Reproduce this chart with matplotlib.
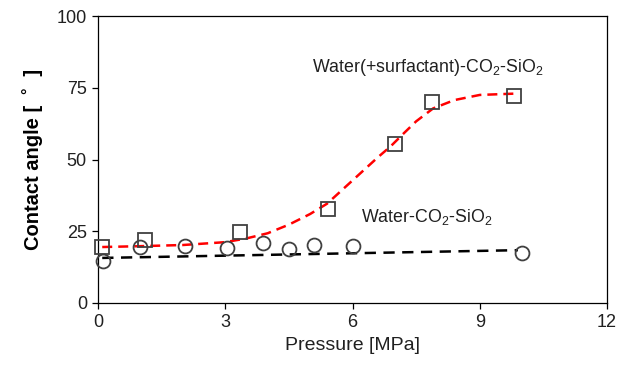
"""Contact angle vs pressure for water-CO2-SiO2 with and without surfactant."""

import matplotlib
matplotlib.use("Agg")
import matplotlib.pyplot as plt

plt.rcParams["font.family"] = ["Liberation Sans", "DejaVu Sans"]
plt.rcParams["mathtext.default"] = "regular"

surf_p = [0.1, 1.1, 3.35, 5.42, 7.0, 7.87, 9.8]
surf_angle = [19.6, 21.8, 24.8, 32.8, 55.5, 69.9, 72.1]

plain_p = [0.12, 1.0, 2.05, 3.05, 3.9, 4.5, 5.1, 6.0, 10.0]
plain_angle = [14.7, 19.6, 20.0, 19.3, 21.0, 18.9, 20.1, 20.0, 17.3]

# fitted trend lines
surf_fit_p = [0.1, 1.0, 2.0, 3.0, 3.5, 4.0, 4.5, 5.0, 5.4, 5.8, 6.2, 6.6,
              6.9, 7.2, 7.5, 7.9, 8.4, 9.0, 9.9]
surf_fit_angle = [19.5, 19.8, 20.2, 21.2, 22.5, 24.3, 27.3, 31.0, 34.6, 40.0,
                  45.4, 50.8, 54.6, 59.0, 63.3, 67.8, 70.7, 72.5, 73.0]

plain_fit_p = [0.1, 9.9]
plain_fit_angle = [15.7, 18.4]

fig = plt.figure(figsize=(6.31, 3.69), dpi=100)
ax = fig.add_axes([0.1553, 0.1789, 0.8067, 0.7777])

ax.plot(surf_fit_p, surf_fit_angle, color="#ff0000", linewidth=1.8,
        linestyle=(0, (4, 2.4)), zorder=2)
ax.plot(plain_fit_p, plain_fit_angle, color="black", linewidth=1.8,
        linestyle=(0, (4.5, 3)), zorder=2)

ax.plot(surf_p, surf_angle, "s", markersize=10, markerfacecolor="none",
        markeredgecolor="#404040", markeredgewidth=1.3, zorder=3, clip_on=False)
ax.plot(plain_p, plain_angle, "o", markersize=10, markerfacecolor="none",
        markeredgecolor="#404040", markeredgewidth=1.3, zorder=3, clip_on=False)

ax.text(5.05, 82, "Water(+surfactant)-CO$_2$-SiO$_2$", fontsize=12.8,
        color="#202020", va="center", ha="left")
ax.text(6.2, 30, "Water-CO$_2$-SiO$_2$", fontsize=12.8,
        color="#202020", va="center", ha="left")

ax.set_xlim(0, 12)
ax.set_ylim(0, 100)
ax.set_xticks([0, 3, 6, 9, 12])
ax.set_yticks([0, 25, 50, 75, 100])
ax.tick_params(direction="out", length=4, width=0.9, labelsize=13,
               colors="black", labelcolor="#202020", pad=4)
for side in ax.spines.values():
    side.set_linewidth(0.9)

ax.set_xlabel("Pressure [MPa]", fontsize=14, color="#202020", labelpad=4)
ax.set_ylabel("Contact angle [  ˚  ]", fontsize=14.5, fontweight="bold",
              color="black", labelpad=10)

fig.savefig("out.png", dpi=100)
